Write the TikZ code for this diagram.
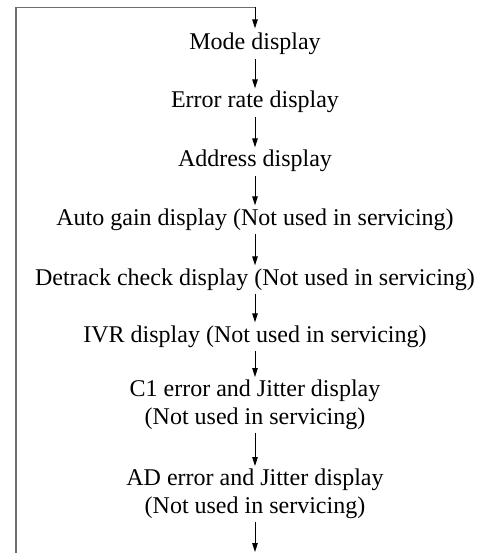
\documentclass[tikz,border=0pt]{standalone}
\usepackage{fontspec}
\setmainfont{Liberation Serif}
\usetikzlibrary{arrows.meta}
\begin{document}
\begin{tikzpicture}[x=1pt,y=-1pt,
  lbl/.style={inner sep=0pt,outer sep=0pt,font=\fontsize{24}{27.5}\selectfont,align=center},
  flow/.style={-{Triangle[length=9pt,width=5.5pt]},line width=0.9pt,black,shorten <=4pt,shorten >=3pt},
  loop/.style={line width=1.7pt,draw={rgb,255:red,110;green,110;blue,110}}]
\useasboundingbox (0,0) rectangle (491,553);
\node[lbl,anchor=base] (mode) at (255,50) {Mode display};
\node[lbl,anchor=base] (err) at (255,108) {Error rate display};
\node[lbl,anchor=base] (addr) at (255,167) {Address display};
\node[lbl,anchor=base] (auto) at (255,225) {Auto gain display (Not used in servicing)};
\node[lbl,anchor=base] (detr) at (255,285) {Detrack check display (Not used in servicing)};
\node[lbl,anchor=base] (ivr) at (255,342) {IVR display (Not used in servicing)};
\node[lbl,anchor=north] (c1) at (255,380) {C1 error and Jitter display\\(Not used in servicing)};
\node[lbl,anchor=north] (ad) at (255,469) {AD error and Jitter display\\(Not used in servicing)};
\coordinate (bot) at (16,553);
\coordinate (tl) at (16,7.5);
\coordinate (tr) at (255,7.5);
\coordinate (end) at (255,552);
\draw[loop] (bot) -- (tl) -- (tr);
\draw[flow,shorten <=0pt,shorten >=5pt] (tr) -- (mode);
\draw[flow] (mode) -- (err);
\draw[flow] (err) -- (addr);
\draw[flow] (addr) -- (auto);
\draw[flow] (auto) -- (detr);
\draw[flow] (detr) -- (ivr);
\draw[flow] (ivr) -- (c1);
\draw[flow] (c1) -- (ad);
\draw[flow,shorten >=0pt] (ad) -- (end);
\end{tikzpicture}
\end{document}
